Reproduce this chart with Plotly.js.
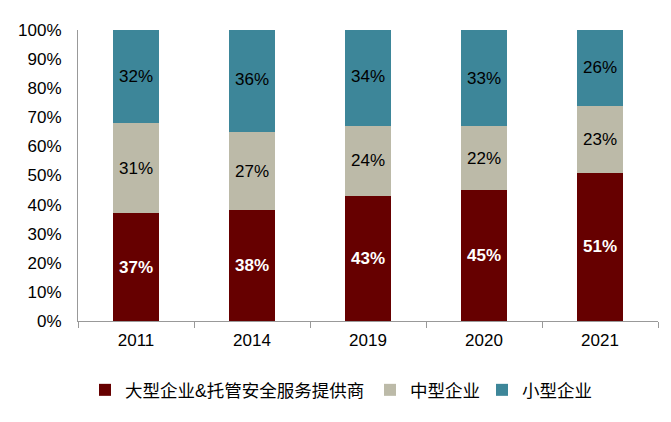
<!DOCTYPE html>
<html>
<head>
<meta charset="utf-8">
<script src="https://cdn.plot.ly/plotly-3.0.1.min.js"></script>
<style>html,body{margin:0;padding:0;background:#fff;}#chart{width:671px;height:422px;}</style>
</head>
<body>
<div id="chart"></div>
<script>
const years = ["2011", "2014", "2019", "2020", "2021"];
const largeShare = [37, 38, 43, 45, 51];
const midShare = [31, 27, 24, 22, 23];
const smallShare = [32, 36, 34, 33, 26];
const seriesNames = ["大型企业&托管安全服务提供商", "中型企业", "小型企业"];
const yTickVals = [0, 10, 20, 30, 40, 50, 60, 70, 80, 90, 100];
const yTickText = yTickVals.map(v => v + "%");

const FONT = "Liberation Sans, Arial, Noto Sans CJK SC, sans-serif";
function mk(name, vals, color, textColor, bold, legendId) {
  return {
    type: "bar", name: name, x: years, y: vals,
    marker: {color: color},
    text: vals.map(v => bold ? "<b>" + v + "%</b>" : v + "%"),
    textposition: "inside", insidetextanchor: "middle",
    textfont: {color: textColor, size: 17, family: FONT},
    hoverinfo: "none", cliponaxis: true, legend: legendId
  };
}
const data = [
  mk(seriesNames[0], largeShare, "#660000", "#ffffff", true, "legend"),
  mk(seriesNames[1], midShare, "#BCBAA8", "#000000", false, "legend2"),
  mk(seriesNames[2], smallShare, "#3D8699", "#000000", false, "legend3")
];
const legY = -0.237;
function leg(xpx) {
  return {
    orientation: "h", x: (xpx - 78) / 580, xanchor: "left", y: legY, yanchor: "middle",
    font: {size: 17.5, family: FONT}, itemwidth: 30, bgcolor: "rgba(0,0,0,0)"
  };
}
const layout = {
  width: 671, height: 422,
  margin: {l: 78, r: 13, t: 30, b: 101, autoexpand: false},
  barmode: "stack", bargap: 0.6,
  paper_bgcolor: "#fff", plot_bgcolor: "#fff",
  font: {family: FONT, size: 17, color: "#000"},
  xaxis: {
    type: "category", showline: true, linecolor: "#999", linewidth: 1,
    ticks: "outside", tickson: "boundaries", ticklen: 6, tickcolor: "#999",
    tickfont: {size: 17, family: FONT}, showgrid: false, zeroline: false, ticklabelstandoff: 4
  },
  yaxis: {
    range: [0, 100], tickvals: yTickVals, ticktext: yTickText,
    showline: true, linecolor: "#999", linewidth: 1, ticks: "", showgrid: false, zeroline: false,
    tickfont: {size: 17, family: FONT}, ticklabelstandoff: 12
  },
  showlegend: true,
  legend: leg(85),
  legend2: leg(370),
  legend3: leg(482)
};
Plotly.newPlot("chart", data, layout, {displayModeBar: false, staticPlot: true});
</script>
</body>
</html>
